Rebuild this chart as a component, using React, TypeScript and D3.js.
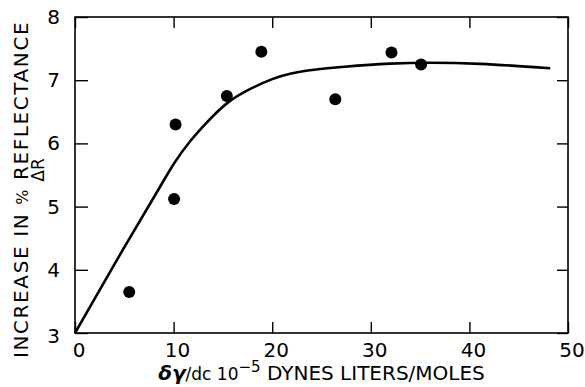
import { useRef, useEffect } from 'react';
import * as d3 from 'd3';

const xTicks = [0, 10, 20, 30, 40, 50];
const yTicks = [3, 4, 5, 6, 7, 8];

// measured points
const dotX = [5.5, 10.05, 10.2, 15.4, 18.9, 26.4, 32.1, 35.1];
const dotY = [3.65, 5.12, 6.3, 6.75, 7.45, 6.7, 7.44, 7.25];

// fitted curve
const curveX = [0, 5.2, 8.45, 10, 11.7, 13.4, 15.4, 17.8, 20.1, 21.8, 24.2, 26.9, 32.3, 35.7, 40.7, 48.2];
const curveY = [3, 4.42, 5.26, 5.69, 6.05, 6.34, 6.66, 6.87, 7.03, 7.11, 7.17, 7.21, 7.27, 7.28, 7.27, 7.19];

const W = 585;
const H = 387;

export default function App() {
  const ref = useRef<SVGSVGElement>(null);

  useEffect(() => {
    const svg = d3.select(ref.current);
    svg.selectAll('*').remove();

    const m = { top: 17, right: 17, bottom: 54, left: 75 };
    const iw = W - m.left - m.right;
    const ih = H - m.top - m.bottom;
    const font = 'DejaVu Sans, sans-serif';

    const x = d3.scaleLinear().domain([0, 50]).range([0, iw]);
    const y = d3.scaleLinear().domain([3, 8]).range([ih, 0]);

    const g = svg.append('g').attr('transform', `translate(${m.left},${m.top})`);

    // frame
    g.append('rect')
      .attr('width', iw).attr('height', ih)
      .attr('fill', 'none').attr('stroke', '#000').attr('stroke-width', 1.6);

    const tl = 11;
    // inward ticks on all four sides
    const style = (s: any) => {
      s.select('.domain').remove();
      s.selectAll('line').attr('stroke', '#000').attr('stroke-width', 1.4);
    };
    g.append('g').attr('transform', `translate(0,${ih})`)
      .call(d3.axisBottom(x).tickValues(xTicks).tickSize(-tl).tickFormat(() => ''))
      .call(style);
    g.append('g')
      .call(d3.axisTop(x).tickValues(xTicks).tickSize(-tl).tickFormat(() => ''))
      .call(style);
    g.append('g')
      .call(d3.axisLeft(y).tickValues(yTicks).tickSize(-13).tickFormat(() => ''))
      .call(style);
    g.append('g').attr('transform', `translate(${iw},0)`)
      .call(d3.axisRight(y).tickValues(yTicks).tickSize(-tl).tickFormat(() => ''))
      .call(style);

    // tick labels
    g.selectAll('text.xl').data(xTicks).enter().append('text')
      .attr('class', 'xl')
      .attr('x', d => x(d) + 4).attr('y', ih + 24)
      .attr('text-anchor', 'middle')
      .style('font-family', font).style('font-size', '20px')
      .text(d => d);
    g.selectAll('text.yl').data(yTicks).enter().append('text')
      .attr('class', 'yl')
      .attr('x', -15).attr('y', d => y(d) + 7 + (d === 3 ? 3 : 0))
      .attr('text-anchor', 'end')
      .style('font-family', font).style('font-size', '20px')
      .text(d => d);

    // curve
    const pts = curveX.map((v, i) => [v, curveY[i]] as [number, number]);
    g.append('path')
      .datum(pts)
      .attr('d', d3.line<[number, number]>().x(d => x(d[0])).y(d => y(d[1])).curve(d3.curveBasis))
      .attr('fill', 'none').attr('stroke', '#000').attr('stroke-width', 2.6);

    // dots
    g.selectAll('circle').data(dotX).enter().append('circle')
      .attr('cx', d => x(d)).attr('cy', (_, i) => y(dotY[i]))
      .attr('r', 6).attr('fill', '#000');

    // x label
    const xl = svg.append('text')
      .attr('x', m.left + iw / 2).attr('y', 380)
      .attr('text-anchor', 'middle')
      .style('font-family', font).style('font-size', '20px');
    xl.append('tspan').style('font-style', 'italic').style('font-weight', 'bold').text('δγ');
    xl.append('tspan').style('font-size', '17px').text('/dc 10');
    xl.append('tspan').attr('dy', -8).style('font-size', '15px').text('−5');
    xl.append('tspan').attr('dy', 8).text(' DYNES LITERS/MOLES');

    // y label
    const yl = svg.append('text')
      .attr('transform', 'translate(28,358) rotate(-90)')
      .attr('text-anchor', 'start')
      .style('letter-spacing', '1.6px')
      .style('font-family', font).style('font-size', '20px');
    yl.append('tspan').text('INCREASE IN ');
    yl.append('tspan').style('font-size', '16px').text('%');
    yl.append('tspan').text(' REFLECTANCE');
    svg.append('text')
      .attr('transform', 'translate(44,170) rotate(-90)')
      .attr('text-anchor', 'middle')
      .style('font-family', font).style('font-size', '17px')
      .text('ΔR');
  }, []);

  return (
    <svg ref={ref} width={W} height={H}
      style={{ position: 'absolute', left: 0, top: 0, background: '#fff' }} />
  );
}
